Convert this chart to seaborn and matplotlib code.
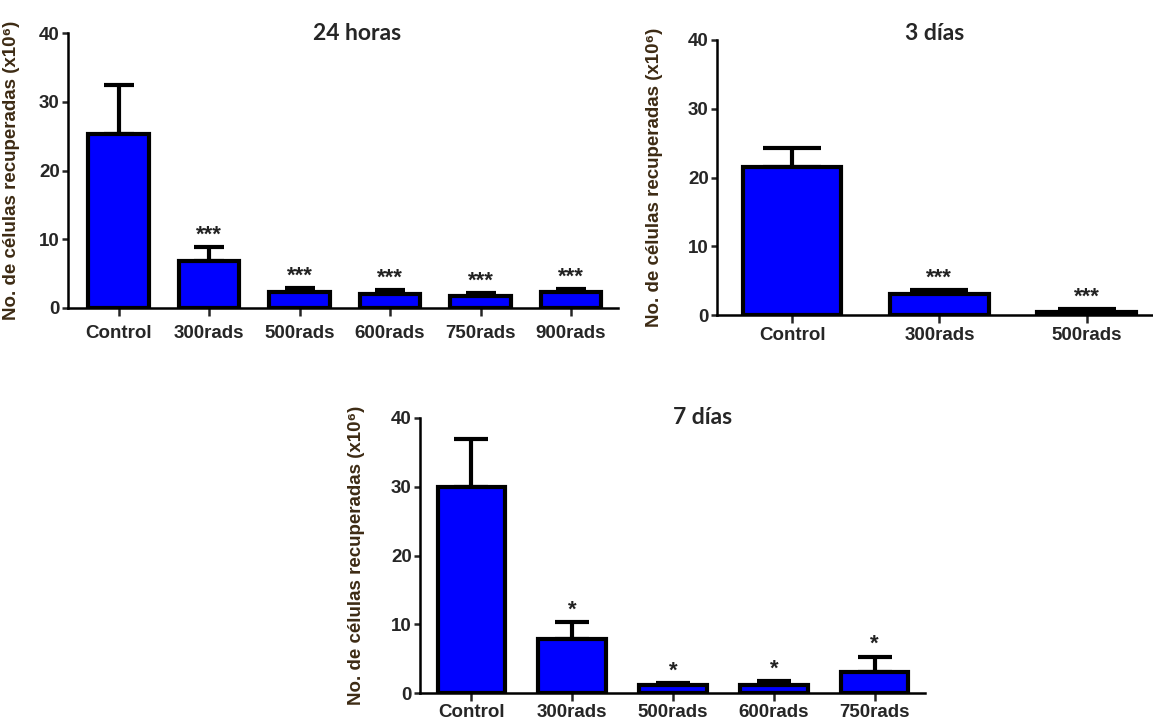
#!/usr/bin/env python3
"""Células recuperadas tras irradiación: 24 horas, 3 días y 7 días."""

import matplotlib
matplotlib.use("Agg")
import matplotlib.pyplot as plt
import seaborn as sns

# --- datos (media y desviación superior) ---
CATS_24H = ["Control", "300rads", "500rads", "600rads", "750rads", "900rads"]
MEDIA_24H = [25.3, 6.8, 2.3, 2.1, 1.8, 2.4]
ERR_24H = [7.1, 2.1, 0.6, 0.5, 0.4, 0.3]
SIG_24H = ["", "***", "***", "***", "***", "***"]

CATS_3D = ["Control", "300rads", "500rads"]
MEDIA_3D = [21.5, 3.1, 0.45]
ERR_3D = [2.8, 0.5, 0.45]
SIG_3D = ["", "***", "***"]

CATS_7D = ["Control", "300rads", "500rads", "600rads", "750rads"]
MEDIA_7D = [30.0, 7.9, 1.1, 1.1, 3.1]
ERR_7D = [6.9, 2.4, 0.4, 0.7, 2.2]
SIG_7D = ["", "*", "*", "*", "*"]

YTICKS = [0, 10, 20, 30, 40]
YLABEL = "No. de células recuperadas (x10⁶)"

W, H = 1153, 721
AZUL = "#0000FF"
COLOR_YLABEL = "#3d2b14"
LW = 3.0


def panel(fig, caja, cats, medias, errs, sig, titulo, xlim, pos_titulo, cap, lab_x, xpad):
    left, top, right, bottom = caja
    ax = fig.add_axes([left / W, 1 - bottom / H, (right - left) / W, (bottom - top) / H])
    sns.barplot(
        x=cats, y=medias, color=AZUL, saturation=1, edgecolor="black",
        linewidth=LW, width=0.67, errorbar=None, ax=ax, zorder=3,
    )
    xs = [p.get_x() + p.get_width() / 2 for p in ax.patches]
    ax.errorbar(
        xs, medias, yerr=[[0] * len(errs), errs], fmt="none", ecolor="black",
        elinewidth=LW, capsize=cap, capthick=LW, zorder=2,
    )
    for x, m, e, s in zip(xs, medias, errs, sig):
        if s:
            ax.annotate(
                s, (x, m + e), xytext=(0, 1), textcoords="offset points",
                ha="center", va="bottom", fontsize=16, fontweight="bold",
                color="#222222",
            )
    ax.set_ylim(0, 40)
    ax.set_yticks(YTICKS)
    ax.set_xlim(*xlim)
    sns.despine(ax=ax)
    for lado in ("left", "bottom"):
        ax.spines[lado].set_linewidth(1.8)
        ax.spines[lado].set_color("black")
    ax.tick_params(axis="y", length=4, width=1.8, labelsize=13.5, pad=2)
    ax.tick_params(axis="x", length=6, width=1.8, labelsize=13.5, pad=xpad)
    for t in ax.get_xticklabels() + ax.get_yticklabels():
        t.set_fontweight("bold")
    ax.set_xlabel("")
    ax.set_ylabel(YLABEL, fontsize=13.5, fontweight="bold", color=COLOR_YLABEL)
    ax.yaxis.set_label_coords(lab_x / (right - left), 0.5)
    ax.text(
        pos_titulo[0], pos_titulo[1], titulo, transform=ax.transAxes,
        ha="center", va="center", fontsize=16.5, fontweight="bold",
        family=["Lato", "DejaVu Sans"],
    )
    return ax


def main() -> None:
    sns.set_style("ticks")
    plt.rcParams["font.family"] = ["Liberation Sans", "DejaVu Sans"]

    fig = plt.figure(figsize=(W / 100, H / 100), dpi=100)

    panel(fig, (68, 33, 618, 308), CATS_24H, MEDIA_24H, ERR_24H, SIG_24H,
          "24 horas", (-0.56, 5.52), (0.525, 1.0), 10.5, -48, 6)
    panel(fig, (717, 40, 1153, 315), CATS_3D, MEDIA_3D, ERR_3D, SIG_3D,
          "3 días", (-0.51, 2.45), (0.5, 1.025), 21, -54, 3)
    panel(fig, (420, 418, 925, 693), CATS_7D, MEDIA_7D, ERR_7D, SIG_7D,
          "7 días", (-0.51, 4.5), (0.56, 1.0), 12, -55, 2)

    fig.savefig("out.png", dpi=100)
    plt.close(fig)


if __name__ == "__main__":
    main()
